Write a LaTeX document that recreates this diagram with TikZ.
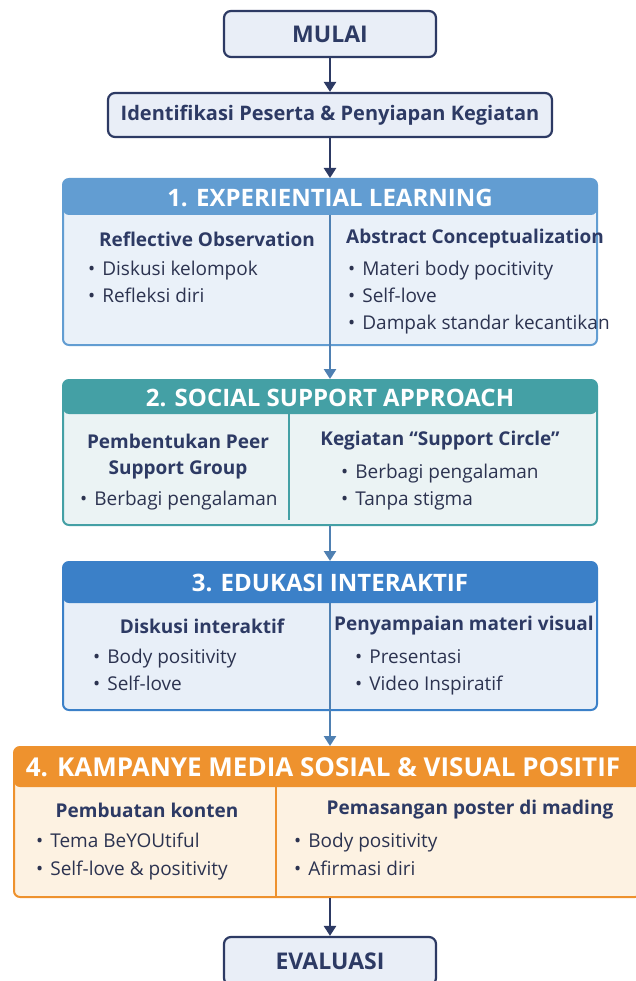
\documentclass[tikz,border=0pt]{standalone}
\usepackage{fontspec}
\setmainfont{Open Sans}
\usetikzlibrary{positioning, arrows.meta}

\definecolor{navy}{HTML}{2D3A64}
\definecolor{ink}{HTML}{2C3350}
\definecolor{boxfill}{HTML}{E9EEF7}
\definecolor{blueA}{HTML}{629DD2}
\definecolor{blueAbg}{HTML}{EAF1F9}
\definecolor{tealC}{HTML}{44A0A5}
\definecolor{tealbg}{HTML}{EBF3F4}
\definecolor{blueB}{HTML}{3B80C8}
\definecolor{blueBbg}{HTML}{E8EFF8}
\definecolor{orng}{HTML}{EE922E}
\definecolor{orngbg}{HTML}{FDF2E2}
\definecolor{slate}{HTML}{4F80B2}

\tikzset{
  flowbox/.style={draw=navy, line width=2.2pt, fill=boxfill, rounded corners=7pt,
    text=navy, font=\bfseries\fontsize{20}{24}\selectfont, inner sep=0pt},
  secbox/.style n args={3}{draw=#1, line width=2pt, fill=#2, rounded corners=6pt,
    inner sep=0pt, path picture={\fill[#1] (path picture bounding box.north west)
      rectangle ([yshift=-#3]path picture bounding box.north east);}},
  hdrtext/.style={text=white, font=\bfseries\fontsize{24}{28}\selectfont, inner sep=0pt},
  coltitle/.style={text=navy, font=\bfseries\fontsize{19}{26}\selectfont, align=center, inner sep=0pt},
  item/.style={text=ink, font=\fontsize{19}{24}\selectfont, anchor=base west, inner sep=0pt},
  link/.style={-{Triangle[length=10pt, width=12pt]}, line width=2.6pt}
}
\newcommand{\bul}[1]{\textbullet\hspace{7pt}#1}

\begin{document}
\begin{tikzpicture}[x=1pt, y=-1pt]
    \useasboundingbox (0,0) rectangle (635,981);

    % start and preparation
    \node[flowbox, minimum width=212pt, minimum height=46pt, font=\bfseries\fontsize{23}{26}\selectfont] (mulai) at (330,34) {MULAI};
    \node[flowbox, minimum width=444pt, minimum height=44pt] (ident) at (330,115) {Identifikasi Peserta \& Penyiapan Kegiatan};

    % 1. experiential learning
    \node[secbox={blueA}{blueAbg}{36pt}, minimum width=534pt, minimum height=166pt] (s1) at (330,262) {};
    \node[hdrtext] (h1) at (330,198) {1. EXPERIENTIAL LEARNING};
    \coordinate (d1) at (330,215);
    \node[coltitle] (t1a) at (207,239) {Reflective Observation};
    \node[coltitle] (t1b) at (475,239) {Abstract Conceptualization};
    \node[item] (i1a) at (88,276) {\bul{Diskusi kelompok}};
    \node[item] (i1b) at (88,302) {\bul{Refleksi diri}};
    \node[item] (i1c) at (348,276) {\bul{Materi body pocitivity}};
    \node[item] (i1d) at (348,302) {\bul{Self-love}};
    \node[item] (i1e) at (348,329) {\bul{Dampak standar kecantikan}};

    % 2. social support
    \node[secbox={tealC}{tealbg}{34pt}, minimum width=534pt, minimum height=145pt] (s2) at (330,452.5) {};
    \node[hdrtext] (h2) at (330,398) {2. SOCIAL SUPPORT APPROACH};
    \draw[tealC, line width=2pt] (289,414) -- (289,520);
    \node[coltitle] (t2a) at (178,457) {Pembentukan Peer\\Support Group};
    \node[coltitle] (t2b) at (440,441) {Kegiatan “Support Circle”};
    \node[item] (i2a) at (80,505) {\bul{Berbagi pengalaman}};
    \node[item] (i2b) at (341,478) {\bul{Berbagi pengalaman}};
    \node[item] (i2c) at (341,505) {\bul{Tanpa stigma}};

    % 3. edukasi interaktif
    \node[secbox={blueB}{blueBbg}{41pt}, minimum width=534pt, minimum height=148pt] (s3) at (330,636) {};
    \node[hdrtext] (h3) at (330,583) {3. EDUKASI INTERAKTIF};
    \coordinate (d3) at (330,603);
    \node[coltitle] (t3a) at (202,626) {Diskusi interaktif};
    \node[coltitle] (t3b) at (464,626) {Penyampaian materi visual};
    \node[item] (i3a) at (93,663) {\bul{Body positivity}};
    \node[item] (i3b) at (93,690) {\bul{Self-love}};
    \node[item] (i3c) at (355,663) {\bul{Presentasi}};
    \node[item] (i3d) at (355,690) {\bul{Video Inspiratif}};

    % 4. kampanye
    \node[secbox={orng}{orngbg}{40pt}, minimum width=627pt, minimum height=150pt] (s4) at (327.5,822) {};
    \node[hdrtext, font=\bfseries\fontsize{26}{30}\selectfont] (h4) at (323,767) {4. KAMPANYE MEDIA SOSIAL \& VISUAL POSITIF};
    \draw[orng, line width=2pt] (276,787) -- (276,897);
    \node[coltitle] (t4a) at (147,810) {Pembuatan konten};
    \node[coltitle] (t4b) at (470,810) {Pemasangan poster di mading};
    \node[item] (i4a) at (36,847) {\bul{Tema BeYOUtiful}};
    \node[item] (i4b) at (36,875) {\bul{Self-love \& positivity}};
    \node[item] (i4c) at (294,847) {\bul{Body positivity}};
    \node[item] (i4d) at (294,875) {\bul{Afirmasi diri}};

    % end
    \node[flowbox, minimum width=212pt, minimum height=48pt, font=\bfseries\fontsize{23}{26}\selectfont] (evalu) at (330,961) {EVALUASI};

    % connectors
    \draw[link, navy] (mulai) -- (ident);
    \draw[link, navy] (ident) -- (s1);
    \draw[link, slate] (d1) -- (s2.north);
    \draw[link, slate] (s2) -- (s3);
    \draw[link, slate] (d3) -- (s4.north -| d3);
    \draw[link, navy] (s4.south -| evalu.north) -- (evalu);
\end{tikzpicture}
\end{document}
